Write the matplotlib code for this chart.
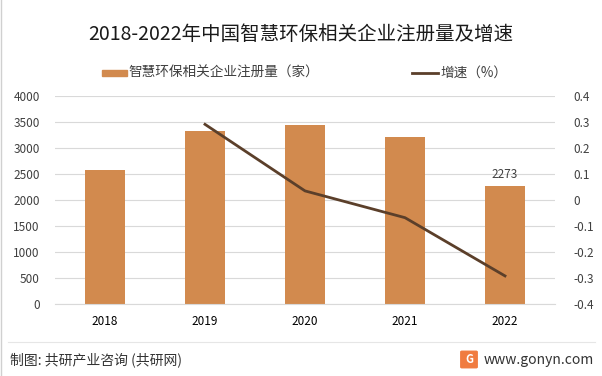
import matplotlib.pyplot as plt
import numpy as np
from matplotlib.patches import FancyBboxPatch

plt.rcParams['font.family'] = ['Noto Sans CJK SC', 'DejaVu Sans']

years = ['2018', '2019', '2020', '2021', '2022']
companies = [2580, 3330, 3445, 3212, 2273]
growth_years = ['2019', '2020', '2021', '2022']
growth = [0.291, 0.035, -0.068, -0.292]

bar_color = '#D28A4E'
line_color = '#5B3F2A'
grid_color = '#D9D9D9'
text_color = '#404040'

fig = plt.figure(figsize=(6.02, 3.76), dpi=100)
ax = fig.add_axes([55/602, 1-304/376, 500/602, 208/376])

x = np.arange(len(years))
ax.bar(x, companies, width=0.4, color=bar_color, zorder=2)
ax.set_xlim(-0.5, len(years) - 0.5)
ax.set_ylim(0, 4000)
ax.set_yticks(np.arange(0, 4001, 500))
ax.set_xticks(x)
ax.set_xticklabels(years, fontsize=8.5, color='black')
ax.tick_params(axis='y', labelsize=8.5, labelcolor=text_color, length=0, pad=11)
ax.tick_params(axis='x', length=0, pad=8)
ax.grid(axis='y', color=grid_color, linewidth=0.8, zorder=0)
for s in ['top', 'right', 'left']:
    ax.spines[s].set_visible(False)
ax.spines['bottom'].set_color(grid_color)
ax.text(x[-1], companies[-1] + 90, str(companies[-1]), ha='center', va='bottom',
        fontsize=8.5, color=text_color)

ax2 = ax.twinx()
gx = [years.index(y) for y in growth_years]
ax2.plot(gx, growth, color=line_color, linewidth=2, zorder=3)
ax2.set_ylim(-0.4, 0.4)
ax2.set_yticks(np.round(np.arange(-0.4, 0.41, 0.1), 1))
ax2.set_yticklabels(['-0.4', '-0.3', '-0.2', '-0.1', '0', '0.1', '0.2', '0.3', '0.4'])
ax2.tick_params(axis='y', labelsize=8.5, labelcolor=text_color, length=0, pad=13)
for s in ax2.spines.values():
    s.set_visible(False)

# title and legend
fig.text(0.5, 1-35/376, '2018-2022年中国智慧环保相关企业注册量及增速', ha='center', va='center',
         fontsize=14, color='#1a1a1a')
fig.patches.append(plt.Rectangle((102/602, 1-76/376), 25/602, 6/376, transform=fig.transFigure,
                                 color=bar_color))
fig.text(128/602, 1-73/376, '智慧环保相关企业注册量（家）', ha='left', va='center', fontsize=9.8,
         color=text_color)
fig.lines.append(plt.Line2D([412/602, 438/602], [1-73/376, 1-73/376], transform=fig.transFigure,
                            color=line_color, linewidth=2))
fig.text(440/602, 1-73/376, '增速（%）', ha='left', va='center', fontsize=9.8, color=text_color)

# footer
fig.lines.append(plt.Line2D([8/602, 595/602], [1-342/376, 1-342/376], transform=fig.transFigure,
                            color='#E6E6E6', linewidth=0.8))
fig.lines.append(plt.Line2D([1/602, 1/602], [0, 1], transform=fig.transFigure,
                            color='#D0D0D0', linewidth=1))
fig.text(10/602, 1-360/376, '制图: 共研产业咨询 (共研网)', ha='left', va='center', fontsize=10,
         color='#333333')
fig.patches.append(FancyBboxPatch((462/602, 1-367/376), 14/602, 15/376, transform=fig.transFigure,
                                  boxstyle='round,pad=0.002', color='#F07B3F'))
fig.text(469/602, 1-359.5/376, 'G', ha='center', va='center', fontsize=8, color='white',
         fontweight='bold')
fig.text(484/602, 1-360/376, 'www.gonyn.com', ha='left', va='center', fontsize=10, color='#333333')

fig.savefig('out.png', dpi=100)
